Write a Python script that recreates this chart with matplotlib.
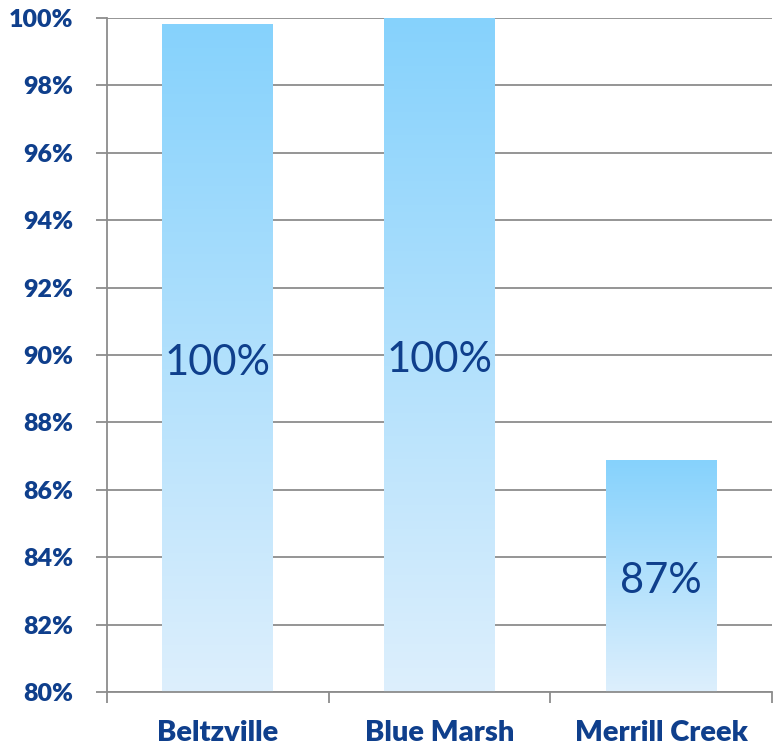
import matplotlib
matplotlib.use("Agg")
import matplotlib.pyplot as plt
import numpy as np
from matplotlib.colors import LinearSegmentedColormap

categories = ["Beltzville", "Blue Marsh", "Merrill Creek"]
values = [99.82, 100.0, 86.88]
labels = ["100%", "100%", "87%"]
yticks = [80, 82, 84, 86, 88, 90, 92, 94, 96, 98, 100]

navy = "#0F3F8C"
grid = "#8C8C8C"

plt.rcParams['font.family'] = ['Lato', 'DejaVu Sans']

fig = plt.figure(figsize=(7.74, 7.48), dpi=100)
ax = fig.add_axes([107/774, 1 - 692/748, (772-107)/774, (692-18)/748])

x = np.arange(len(categories))
bars = ax.bar(x, values, width=0.5, color="none", zorder=2)

cmap = LinearSegmentedColormap.from_list("g", ["#DDEFFC", "#86D2FD"])
grad = np.linspace(0, 1, 256).reshape(-1, 1)
for b in bars:
    x0, y0 = b.get_x(), 80
    w, h = b.get_width(), b.get_height()
    ax.imshow(grad, cmap=cmap, origin="lower", aspect="auto",
              extent=(x0, x0 + w, y0, h), zorder=2)

for b, lab in zip(bars, labels):
    cx = b.get_x() + b.get_width() / 2
    cy = (80 + b.get_height()) / 2
    ax.annotate(lab, (cx, cy), xytext=(0, -5), textcoords="offset pixels",
                ha="center", va="center", fontsize=30, color=navy, zorder=3)

ax.set_xlim(-0.5, 2.5)
ax.set_ylim(80, 100)
ax.set_yticks(yticks)
ax.set_yticklabels([f"{v}%" for v in yticks], fontsize=18, fontweight="heavy", color=navy)
ax.yaxis.grid(True, color=grid, linewidth=1.3, zorder=0)
ax.set_axisbelow(True)

ax.set_xticks([-0.5, 0.5, 1.5, 2.5])
ax.set_xticklabels([])
ax.set_xticks(x, minor=True)
ax.set_xticklabels(categories, minor=True, fontsize=21, fontweight="heavy", color=navy)
ax.tick_params(axis="x", which="minor", length=0, pad=20)
ax.tick_params(axis="x", which="major", length=8, color=grid, width=1.3, direction="out")
ax.tick_params(axis="y", length=8, color=grid, width=1.3, pad=16)

for s in ["top", "right"]:
    ax.spines[s].set_visible(False)
for s in ["left", "bottom"]:
    ax.spines[s].set_color(grid)
    ax.spines[s].set_linewidth(1.3)

fig.savefig("out.png", dpi=100)
